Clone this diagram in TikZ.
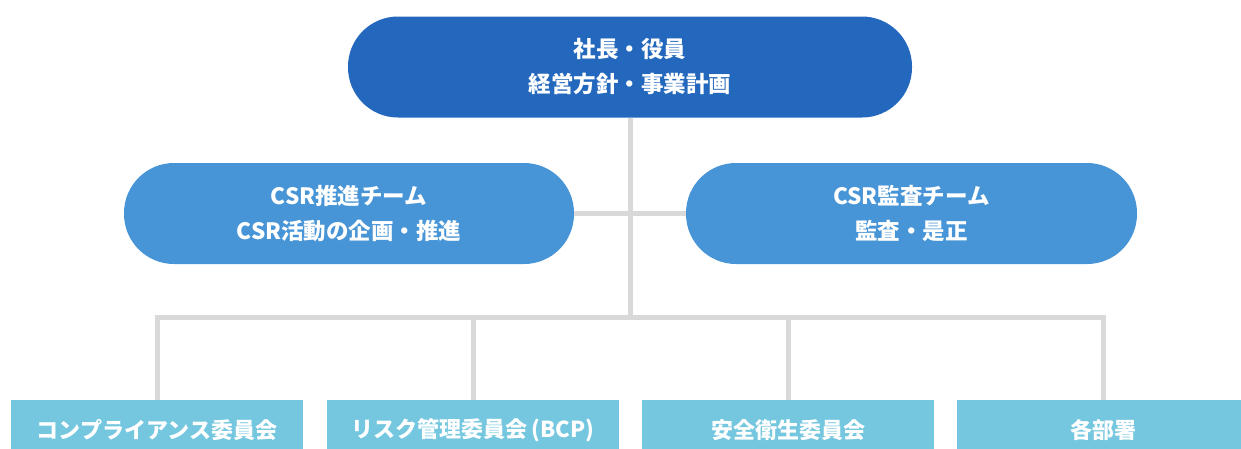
\documentclass[tikz,border=0pt]{standalone}
\usepackage{fontspec}
\setmainfont{Noto Sans CJK JP}
\definecolor{topblue}{HTML}{2468BE}
\definecolor{midblue}{HTML}{4795D6}
\definecolor{lowblue}{HTML}{74C7DF}
\definecolor{linegray}{HTML}{D9D9D9}
\tikzset{
  pill/.style={rounded corners=50pt, minimum height=101pt, text=white, align=center,
    font=\fontsize{22.5}{35}\selectfont\bfseries, inner sep=0pt},
  unit/.style={fill=lowblue, minimum width=292pt, minimum height=60pt, text=white,
    font=\fontsize{22}{24}\selectfont\bfseries, inner sep=0pt},
  link/.style={draw=linegray, line width=5pt}
}
\begin{document}
\begin{tikzpicture}[x=1pt, y=-1pt]
            \useasboundingbox (0,0) rectangle (1241,448);
            \clip (0,0) rectangle (1241,448);

            % Top node
            \node[pill, fill=topblue, minimum width=564pt] (ceo) at (630,67) {社長・役員\\経営方針・事業計画};

            % Second stage nodes
            \node[pill, fill=midblue, minimum width=450pt] (promo) at (349,213.5) {CSR推進チーム\\CSR活動の企画・推進};
            \node[pill, fill=midblue, minimum width=451pt] (audit) at (911.5,213.5) {CSR監査チーム\\監査・是正};

            % Third stage nodes
            \node[unit] (comp) at (157,430) {コンプライアンス委員会};
            \node[unit] (risk) at (473,430) {リスク管理委員会\,(BCP)};
            \node[unit] (safe) at (788,430) {安全衛生委員会};
            \node[unit] (dept) at (1103,430) {各部署};

            % Edges
            \coordinate (bus) at (630,317);
            \draw[link] (ceo.south) -- (bus);
            \draw[link] (promo.east) -- (audit.west);
            \draw[link, line cap=rect] (comp.north |- bus) -- (dept.north |- bus);
            \foreach \n in {comp,risk,safe,dept}
              \draw[link] (bus -| \n.north) -- (\n.north);

\end{tikzpicture}
\end{document}
